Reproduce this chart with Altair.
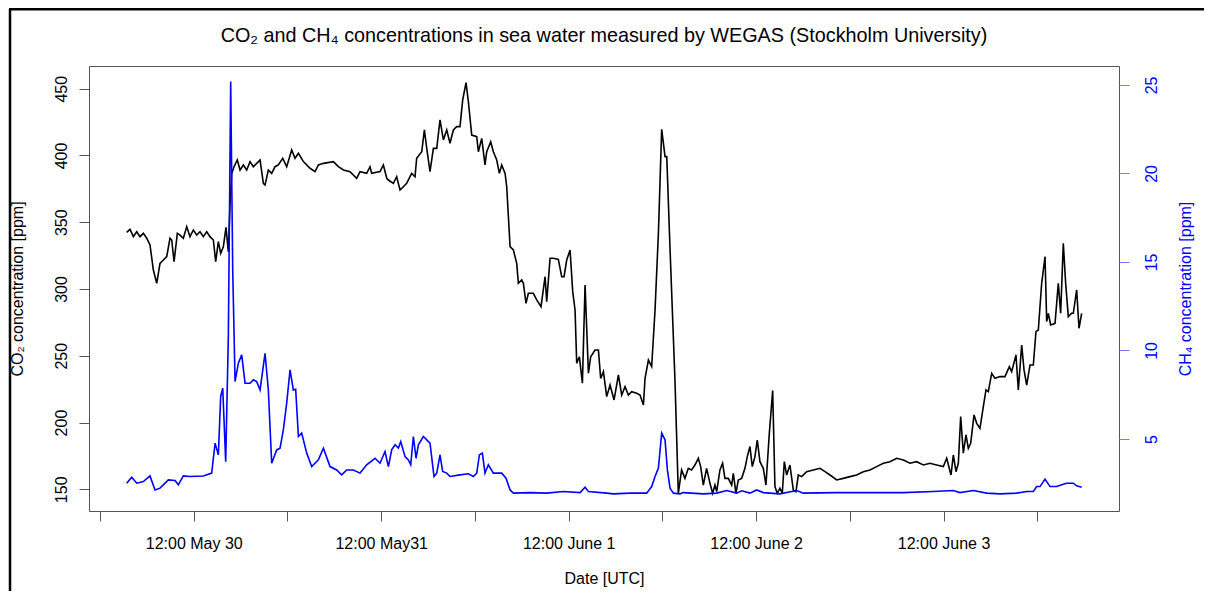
import altair as alt
import pandas as pd

# ---- data (hours since 30 May 00:00 UTC) ----
co2_hours = [3.41, 3.84, 4.27, 4.70, 5.12, 5.55, 5.98, 6.40, 6.83, 7.26, 7.68, 8.11, 8.54, 8.96, 9.18, 9.48, 9.90,
             10.24, 10.67, 11.10, 11.52, 11.95, 12.38, 12.80, 13.23, 13.66, 14.08, 14.51, 14.81, 15.15, 15.45, 15.79,
             16.13, 16.43, 16.65, 16.86, 17.16, 17.58, 17.93, 18.35, 18.78, 19.21, 19.63, 20.06, 20.49, 20.91, 21.13,
             21.55, 21.98, 22.41, 22.83, 23.39, 23.90, 24.54, 24.97, 25.40, 26.04, 26.89, 27.53, 27.96, 28.60, 29.88,
             30.52, 31.16, 32.01, 32.86, 33.29, 34.14, 34.57, 34.78, 35.85, 36.28, 36.71, 36.92, 37.56, 37.98, 38.41,
             38.84, 39.26, 39.90, 40.33, 40.54, 41.19, 41.53, 41.83, 42.25, 42.68, 43.11, 43.53, 43.96, 44.39, 44.81,
             45.24, 45.67, 46.09, 46.43, 46.86, 47.16, 47.59, 48.23, 48.44, 48.87, 49.29, 49.51, 50.02, 50.36, 50.79,
             51.13, 51.43, 51.86, 52.07, 52.50, 52.92, 53.35, 53.56, 53.99, 54.20, 54.54, 54.84, 55.48, 55.91, 56.46,
             56.98, 57.19, 57.62, 58.04, 58.68, 59.11, 59.41, 59.75, 60.18, 60.52, 60.82, 61.03, 61.37, 61.76, 62.10,
             62.53, 62.82, 63.38, 63.81, 64.10, 64.45, 64.87, 65.30, 65.81, 66.37, 66.79, 67.22, 67.65, 68.07, 68.71,
             69.14, 69.57, 69.78, 70.21, 70.63, 71.06, 71.49, 71.91, 72.34, 72.56, 72.98, 73.61, 74.04, 74.46, 74.89,
             75.32, 75.74, 76.17, 76.60, 76.90, 77.24, 77.66, 78.09, 78.43, 78.73, 78.95, 79.37, 79.71, 80.01, 80.44,
             80.87, 81.08, 81.42, 81.72, 82.15, 82.57, 82.87, 83.21, 83.51, 83.85, 84.15, 84.49, 84.92, 85.26, 85.69,
             86.12, 86.41, 86.71, 87.05, 87.35, 87.61, 87.91, 88.33, 88.76, 89.10, 89.40, 89.83, 90.47, 91.32, 92.18,
             92.82, 93.46, 94.31, 95.16, 96.02, 96.87, 97.72, 98.58, 99.43, 100.29, 101.14, 101.99, 102.85, 103.70,
             104.55, 105.41, 106.26, 107.11, 107.97, 108.40, 108.95, 109.25, 109.59, 109.89, 110.19, 110.53, 110.87,
             111.17, 111.47, 111.90, 112.24, 112.66, 113.09, 113.43, 113.73, 114.16, 114.58, 115.22, 115.86, 116.42,
             116.72, 117.27, 117.57, 118.00, 118.30, 118.64, 119.07, 119.49, 119.83, 120.13, 120.56, 120.99, 121.20,
             121.41, 121.71, 122.27, 122.69, 122.99, 123.33, 123.63, 123.97, 124.40, 124.61, 125.04, 125.34, 125.68]
co2_ppm = [342.4, 344.7, 339.2, 342.9, 339.2, 341.7, 338.0, 333.0, 314.2, 304.3, 319.2, 321.7, 324.2, 338.0, 336.7,
           320.5, 341.7, 340.4, 338.0, 346.7, 339.2, 344.2, 340.4, 342.9, 339.2, 342.9, 339.2, 336.7, 320.5, 335.5,
           326.7, 331.7, 346.2, 328.0, 364.2, 386.6, 391.6, 396.6, 389.1, 392.9, 389.1, 395.4, 391.6, 394.1, 396.6,
           379.1, 377.9, 389.1, 386.6, 391.6, 392.9, 397.9, 391.6, 404.1, 397.9, 401.6, 395.4, 390.4, 387.9, 392.9,
           394.1, 395.4, 391.6, 389.1, 387.9, 382.9, 387.9, 386.6, 391.6, 386.6, 387.9, 392.9, 382.9, 381.6, 379.1,
           384.1, 374.1, 376.6, 379.1, 386.6, 384.1, 397.9, 402.8, 419.1, 405.3, 387.9, 405.3, 405.3, 426.6, 411.6,
           419.1, 409.1, 419.1, 421.6, 421.6, 441.5, 454.5, 440.3, 415.3, 414.1, 402.8, 412.8, 392.9, 402.8, 410.3,
           402.8, 396.6, 386.6, 392.9, 386.6, 376.6, 331.7, 329.2, 319.2, 304.3, 306.8, 304.3, 289.3, 296.8, 296.8,
           291.8, 286.8, 309.2, 290.5, 323.0, 323.0, 322.2, 309.2, 309.2, 321.7, 329.2, 298.0, 284.3, 244.4, 249.3,
           229.4, 303.0, 236.9, 249.3, 254.3, 254.3, 233.1, 238.1, 219.4, 228.1, 216.9, 235.6, 220.6, 226.9, 220.6,
           223.1, 221.9, 220.6, 213.2, 233.1, 246.8, 241.9, 284.3, 341.7, 419.6, 399.1, 399.1, 330.0, 231.9, 147.0,
           164.5, 158.2, 165.7, 164.5, 168.2, 173.2, 167.0, 153.2, 165.7, 154.5, 147.0, 153.2, 148.3, 164.5, 169.5,
           158.2, 158.2, 153.2, 162.0, 147.0, 157.0, 158.2, 165.7, 174.5, 182.0, 167.0, 174.5, 186.9, 170.7, 165.7,
           153.2, 191.9, 223.9, 152.0, 147.0, 150.8, 147.0, 170.7, 160.7, 168.2, 149.5, 148.3, 160.7, 159.5, 163.2,
           164.5, 165.7, 163.2, 160.7, 157.0, 158.2, 159.5, 160.7, 163.2, 164.5, 167.0, 169.5, 170.7, 173.2, 172.0,
           169.5, 170.7, 168.2, 169.5, 168.2, 167.0, 173.2, 160.7, 175.7, 163.2, 169.5, 204.4, 177.0, 190.7, 180.7,
           184.4, 205.7, 199.4, 195.7, 211.9, 224.4, 223.1, 236.9, 233.1, 234.4, 234.4, 241.9, 238.1, 250.6, 224.4,
           258.1, 239.4, 228.1, 243.1, 243.1, 268.1, 269.3, 304.3, 324.2, 275.6, 281.8, 273.1, 274.3, 304.3, 281.8,
           334.2, 304.3, 279.3, 281.8, 281.8, 299.3, 270.6, 281.8]

ch4_hours = [3.41, 4.06, 4.70, 5.55, 6.40, 7.04, 7.68, 8.75, 9.60, 10.03, 10.67, 11.52, 13.23, 14.30, 14.73, 15.15,
             15.45, 15.71, 16.09, 16.43, 16.73, 16.99, 17.29, 17.71, 18.14, 18.57, 19.21, 19.63, 20.06, 20.49, 21.13,
             21.55, 21.98, 22.62, 23.05, 23.47, 23.90, 24.33, 24.75, 25.05, 25.40, 25.82, 26.46, 27.10, 27.96, 28.60,
             29.45, 30.30, 30.94, 31.58, 32.44, 33.29, 34.14, 35.21, 35.85, 36.49, 36.92, 37.34, 37.77, 38.20, 38.50,
             39.05, 39.48, 39.78, 40.12, 40.46, 40.76, 41.40, 41.83, 42.25, 42.76, 43.11, 43.53, 43.87, 44.39, 44.81,
             46.09, 47.16, 47.80, 48.23, 48.57, 48.95, 49.29, 49.72, 50.36, 51.43, 51.98, 52.50, 52.92, 55.06, 57.19,
             59.32, 61.46, 62.10, 62.53, 64.87, 65.73, 67.86, 69.99, 70.63, 71.06, 71.49, 71.91, 72.34, 72.64, 72.98,
             73.41, 74.26, 74.68, 77.24, 78.95, 80.23, 81.51, 82.15, 83.21, 84.07, 84.92, 85.77, 87.05, 89.19, 90.04,
             94.31, 98.58, 102.85, 106.69, 109.25, 110.10, 111.81, 113.52, 115.22, 117.36, 118.64, 119.49, 119.92,
             120.35, 120.99, 121.63, 122.48, 123.12, 123.76, 124.61, 125.04, 125.68]
ch4_ppm = [2.50, 2.84, 2.50, 2.59, 2.91, 2.12, 2.22, 2.69, 2.65, 2.41, 2.91, 2.88, 2.91, 3.07, 4.76, 4.10, 7.40, 7.87,
           3.72, 10.79, 25.19, 14.55, 8.24, 9.28, 9.75, 8.15, 8.15, 8.34, 8.24, 7.77, 9.84, 7.77, 3.63, 4.38, 4.48,
           5.51, 7.02, 8.90, 7.77, 7.81, 5.14, 5.33, 4.20, 3.44, 3.82, 4.48, 3.44, 3.25, 2.97, 3.25, 3.25, 3.07, 3.54,
           3.91, 3.63, 4.29, 3.44, 4.38, 4.67, 4.48, 4.85, 4.01, 3.82, 3.54, 5.14, 3.91, 4.67, 5.14, 4.95, 4.76, 2.88,
           3.07, 4.10, 3.16, 3.07, 2.88, 2.97, 3.03, 2.88, 3.07, 4.10, 4.20, 3.07, 3.54, 3.07, 3.07, 2.78, 2.12, 1.94,
           1.97, 1.94, 2.03, 1.97, 2.27, 2.03, 1.94, 1.90, 1.94, 1.94, 2.31, 2.88, 3.35, 5.33, 4.95, 3.25, 2.22, 1.94,
           1.90, 1.97, 1.90, 1.94, 2.09, 1.94, 2.07, 1.94, 2.12, 1.97, 1.94, 1.90, 2.09, 1.94, 1.97, 1.97, 1.97, 2.03,
           2.09, 1.97, 2.09, 1.94, 1.90, 1.94, 2.03, 2.03, 2.31, 2.31, 2.73, 2.31, 2.31, 2.41, 2.50, 2.50, 2.35, 2.27]

x_tick_hours = [0, 12, 24, 36, 48, 60, 72, 84, 96, 108, 120]
x_label_hours = [12, 36, 60, 84, 108]
x_label_texts = ["12:00 May 30", "12:00 May31", "12:00 June 1", "12:00 June 2", "12:00 June 3"]
co2_ticks = [150, 200, 250, 300, 350, 400, 450]
ch4_ticks = [5, 10, 15, 20, 25]

TITLE = "CO\u2082 and CH\u2084 concentrations in sea water measured by WEGAS (Stockholm University)"
CO2_TITLE = "CO\u2082 concentration [ppm]"
CH4_TITLE = "CH\u2084 concentration [ppm]"

co2_df = pd.DataFrame({"hours": co2_hours, "co2": co2_ppm})
ch4_df = pd.DataFrame({"hours": ch4_hours, "ch4": ch4_ppm})
frame_df = pd.DataFrame({"k": [0]})

FONT = "Liberation Sans"
W, H = 1030, 445

label_expr = " : ".join(f"datum.value == {h} ? '{t}'" for h, t in zip(x_label_hours, x_label_texts)) + " : ''"

x_enc = alt.X(
    "hours:Q",
    scale=alt.Scale(domain=[-1.41, 130.46], nice=False, zero=False),
    axis=alt.Axis(
        values=x_tick_hours, labelExpr=label_expr, title="Date [UTC]",
        tickSize=10, tickColor="#555555", domain=False, grid=False,
        labelFontSize=16, labelPadding=14, labelFlush=False, labelOverlap=False, labelBound=False,
        titleFontSize=16, titleX=W / 2, titleY=72, titleAlign="center", titleBaseline="alphabetic",
    ),
)

co2_line = alt.Chart(co2_df).mark_line(color="black", strokeWidth=1.6).encode(
    x=x_enc,
    y=alt.Y(
        "co2:Q",
        scale=alt.Scale(domain=[133.75, 467.0], nice=False, zero=False),
        axis=alt.Axis(
            orient="left", values=co2_ticks, title=CO2_TITLE, tickSize=10, tickColor="#555555",
            domain=False, grid=False, labelAngle=270, labelAlign="center", labelBaseline="alphabetic",
            labelPadding=13, labelFontSize=16, titleFontSize=16, titleAngle=270,
            titleX=-72, titleY=H / 2, titleAlign="center", titleBaseline="middle",
        ),
    ),
)

ch4_line = alt.Chart(ch4_df).mark_line(color="#0000ff", strokeWidth=1.6).encode(
    x=alt.X("hours:Q"),
    y=alt.Y(
        "ch4:Q",
        scale=alt.Scale(domain=[0.93, 26.07], nice=False, zero=False),
        axis=alt.Axis(
            orient="right", values=ch4_ticks, title=CH4_TITLE, tickSize=10, tickColor="#7a7aff",
            domain=False, grid=False, labelAngle=270, labelAlign="center", labelBaseline="alphabetic",
            labelPadding=27, labelFontSize=16, labelColor="#0000ff", titleColor="#0000ff",
            titleFontSize=16, titleAngle=270, titleX=66, titleY=H / 2, titleAlign="center",
            titleBaseline="middle",
        ),
    ),
)

left_rule = alt.Chart(frame_df).mark_rule(color="black", strokeWidth=2.5).encode(
    x=alt.value(-79), y=alt.value(-57), y2=alt.value(540)
)
top_rule = alt.Chart(frame_df).mark_rule(color="black", strokeWidth=3).encode(
    y=alt.value(-57), x=alt.value(-80), x2=alt.value(1130)
)

chart = (
    alt.layer(co2_line, ch4_line, left_rule, top_rule)
    .resolve_scale(y="independent")
    .properties(
        width=W, height=H,
        title=alt.TitleParams(text=TITLE, fontSize=19.8, font=FONT, fontWeight="normal",
                              anchor="middle", offset=-38, color="black"),
        autosize=alt.AutoSizeParams(type="none"),
        padding={"left": 81, "top": 58, "right": 85, "bottom": 80},
    )
    .configure_view(stroke="#555555", strokeWidth=1)
    .configure_axis(labelFont=FONT, titleFont=FONT, titleFontWeight="normal", labelColor="black",
                    titleColor="black")
)

chart.save("out.html", embed_options={"renderer": "svg", "actions": False})
